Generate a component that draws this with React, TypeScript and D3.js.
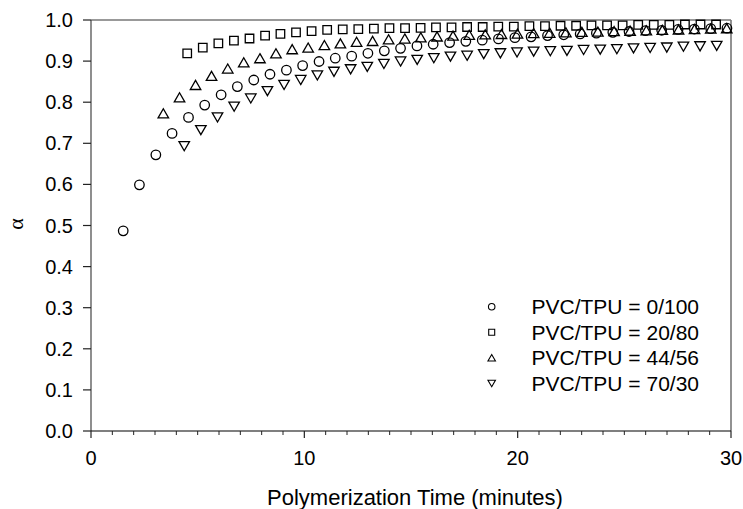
import React from "react";
import * as d3 from "d3";

const seriesNames = ["PVC/TPU = 0/100", "PVC/TPU = 20/80", "PVC/TPU = 44/56", "PVC/TPU = 70/30"];

const t0 = [1.51, 2.27, 3.04, 3.8, 4.57, 5.33, 6.1, 6.86, 7.63, 8.39, 9.16, 9.92, 10.69, 11.45, 12.22, 12.98, 13.75, 14.51, 15.28, 16.04, 16.81, 17.57, 18.34, 19.1, 19.87, 20.63, 21.4, 22.16, 22.93, 23.69, 24.46, 25.22, 25.99, 26.75, 27.52, 28.28, 29.05, 29.81];
const a0 = [0.487, 0.599, 0.672, 0.724, 0.763, 0.793, 0.818, 0.838, 0.854, 0.868, 0.878, 0.889, 0.899, 0.907, 0.912, 0.919, 0.925, 0.931, 0.937, 0.941, 0.945, 0.948, 0.951, 0.954, 0.957, 0.959, 0.962, 0.964, 0.966, 0.968, 0.97, 0.972, 0.974, 0.975, 0.977, 0.978, 0.979, 0.98];

const t1 = [4.51, 5.24, 5.97, 6.7, 7.43, 8.16, 8.88, 9.61, 10.34, 11.07, 11.8, 12.53, 13.26, 13.99, 14.72, 15.45, 16.17, 16.9, 17.63, 18.36, 19.09, 19.82, 20.55, 21.28, 22.01, 22.74, 23.46, 24.19, 24.92, 25.65, 26.38, 27.11, 27.84, 28.57, 29.3];
const a1 = [0.919, 0.933, 0.943, 0.95, 0.955, 0.962, 0.966, 0.97, 0.973, 0.976, 0.977, 0.978, 0.979, 0.98, 0.98, 0.981, 0.982, 0.982, 0.983, 0.983, 0.984, 0.984, 0.985, 0.985, 0.986, 0.986, 0.987, 0.987, 0.987, 0.988, 0.988, 0.988, 0.989, 0.989, 0.989];

const t2 = [3.39, 4.15, 4.9, 5.65, 6.41, 7.16, 7.92, 8.67, 9.43, 10.18, 10.94, 11.69, 12.45, 13.2, 13.95, 14.71, 15.46, 16.22, 16.97, 17.73, 18.48, 19.24, 19.99, 20.75, 21.5, 22.26, 23.01, 23.76, 24.52, 25.27, 26.03, 26.78, 27.54, 28.29, 29.05, 29.8];
const a2 = [0.773, 0.812, 0.842, 0.864, 0.882, 0.897, 0.907, 0.919, 0.929, 0.933, 0.939, 0.943, 0.947, 0.949, 0.953, 0.955, 0.958, 0.96, 0.962, 0.964, 0.965, 0.966, 0.967, 0.968, 0.969, 0.97, 0.971, 0.972, 0.973, 0.974, 0.975, 0.976, 0.977, 0.978, 0.979, 0.98];

const t3 = [4.37, 5.15, 5.93, 6.71, 7.49, 8.27, 9.05, 9.83, 10.61, 11.39, 12.17, 12.95, 13.73, 14.51, 15.29, 16.07, 16.85, 17.63, 18.41, 19.19, 19.97, 20.75, 21.53, 22.31, 23.09, 23.87, 24.65, 25.43, 26.21, 26.99, 27.77, 28.55, 29.33];
const a3 = [0.693, 0.732, 0.763, 0.789, 0.809, 0.827, 0.842, 0.854, 0.865, 0.874, 0.88, 0.886, 0.893, 0.899, 0.903, 0.907, 0.911, 0.913, 0.917, 0.919, 0.921, 0.923, 0.924, 0.925, 0.927, 0.928, 0.929, 0.931, 0.932, 0.933, 0.935, 0.936, 0.937];

const xMajorTicks = [0, 10, 20, 30];
const yTicks = [0, 0.1, 0.2, 0.3, 0.4, 0.5, 0.6, 0.7, 0.8, 0.9, 1.0];

const W = 743;
const H = 509;
const FONT = "'Liberation Sans', Arial, Helvetica, sans-serif";

const x = d3.scaleLinear().domain([0, 30]).range([91, 731]);
const y = d3.scaleLinear().domain([0, 1]).range([431, 20]);

type Kind = "circle" | "square" | "up" | "down";

function markerPath(kind: Kind, s: number): string {
  if (kind === "circle") {
    return d3.symbol().type(d3.symbolCircle).size(Math.PI * (s / 2) * (s / 2))() as string;
  }
  if (kind === "square") {
    return d3.symbol().type(d3.symbolSquare).size(s * s)() as string;
  }
  const h = (s * Math.sqrt(3)) / 2;
  if (kind === "up") {
    return `M0,${-h / 2}L${s / 2},${h / 2}L${-s / 2},${h / 2}Z`;
  }
  return `M0,${h / 2}L${s / 2},${-h / 2}L${-s / 2},${-h / 2}Z`;
}

const series: { name: string; t: number[]; a: number[]; kind: Kind; size: number; lsize: number }[] = [
  { name: seriesNames[0], t: t0, a: a0, kind: "circle", size: 9.5, lsize: 6.5 },
  { name: seriesNames[1], t: t1, a: a1, kind: "square", size: 8.5, lsize: 6 },
  { name: seriesNames[2], t: t2, a: a2, kind: "up", size: 10.5, lsize: 7.5 },
  { name: seriesNames[3], t: t3, a: a3, kind: "down", size: 10.5, lsize: 7.5 },
];

export default function App() {
  const minorTicks = d3.range(0, 31, 1).filter((v) => v % 10 !== 0);
  const legendY = [306.7, 332.3, 357.8, 383.5];
  return (
    <svg
      width={W}
      height={H}
      style={{ position: "absolute", left: 0, top: 0, background: "#fff" }}
      fontFamily={FONT}
    >
      <rect x={0} y={0} width={W} height={H} fill="#fff" />
      <line x1={x(0)} x2={x(30)} y1={y(1)} y2={y(1)} stroke="#777" strokeWidth={1.6} />
      <line x1={x(30)} x2={x(30)} y1={y(1)} y2={y(0)} stroke="#777" strokeWidth={1.6} />
      <line x1={x(0)} x2={x(0)} y1={y(1)} y2={y(0)} stroke="#444" strokeWidth={1.2} />
      <line x1={x(0)} x2={x(30)} y1={y(0)} y2={y(0)} stroke="#000" strokeWidth={1.2} />
      {yTicks.map((v) => (
        <g key={"y" + v}>
          <line x1={x(0) - 8} x2={x(0)} y1={y(v)} y2={y(v)} stroke="#222" strokeWidth={1.2} />
          <text x={73} y={y(v)} dy="0.35em" textAnchor="end" fontSize={20} fill="#000">
            {d3.format(".1f")(v)}
          </text>
        </g>
      ))}
      {minorTicks.map((v) => (
        <line key={"m" + v} x1={x(v)} x2={x(v)} y1={y(0)} y2={y(0) + 4} stroke="#222" strokeWidth={1} />
      ))}
      {xMajorTicks.map((v) => (
        <g key={"x" + v}>
          <line x1={x(v)} x2={x(v)} y1={y(0)} y2={y(0) + 7} stroke="#222" strokeWidth={1.2} />
          <text x={x(v)} y={465} textAnchor="middle" fontSize={20} fill="#000">
            {v}
          </text>
        </g>
      ))}
      <text x={415} y={505} textAnchor="middle" fontSize={22} fill="#000">
        Polymerization Time (minutes)
      </text>
      <text
        transform={`translate(23,224) rotate(-90)`}
        textAnchor="middle"
        fontSize={22}
        fontFamily="'Liberation Serif', 'Times New Roman', serif"
        fill="#000"
      >
        α
      </text>
      {series.map((s) => (
        <g key={s.name}>
          {s.t.map((tv, i) => (
            <path
              key={i}
              d={markerPath(s.kind, s.size)}
              transform={`translate(${x(tv)},${y(s.a[i])})`}
              fill="none"
              stroke="#000"
              strokeWidth={1.3}
            />
          ))}
        </g>
      ))}
      {series.map((s, i) => (
        <g key={"lg" + s.name}>
          <path
            d={markerPath(s.kind, s.lsize)}
            transform={`translate(491.7,${legendY[i]})`}
            fill="none"
            stroke="#000"
            strokeWidth={1.1}
          />
          <text x={531.5} y={legendY[i]} dy="0.35em" fontSize={21} fill="#000">
            {s.name}
          </text>
        </g>
      ))}
    </svg>
  );
}
